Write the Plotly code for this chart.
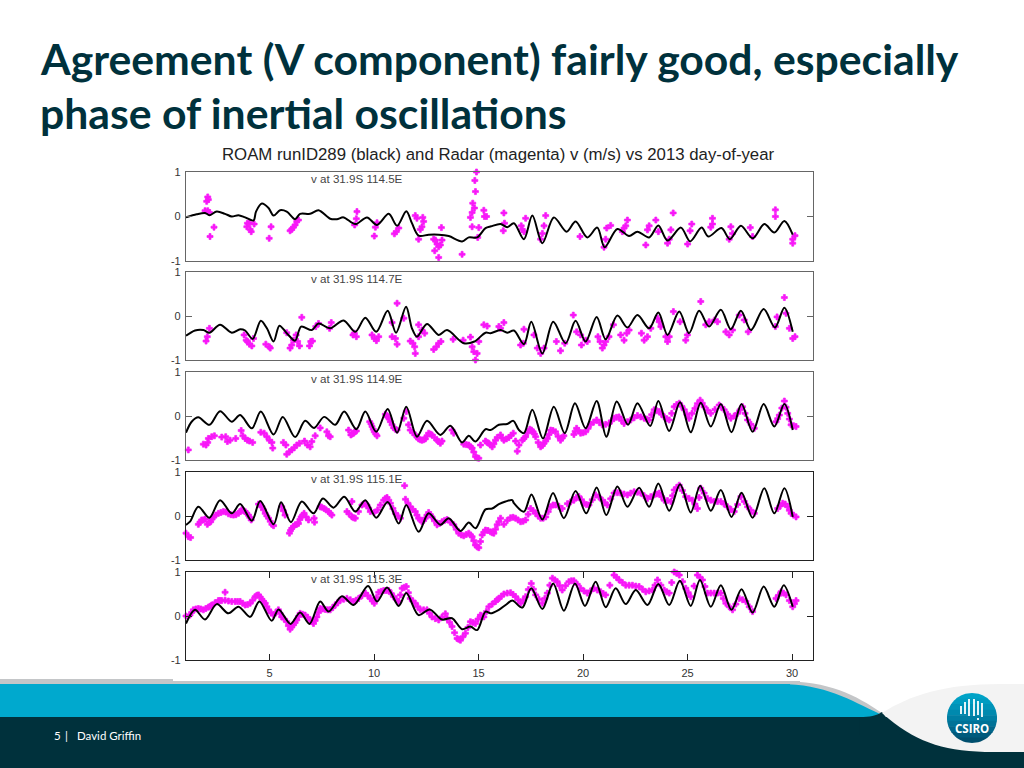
import numpy as np
import plotly.graph_objects as go

W = 1024
H = 768

# texto de la diapositiva
title_lines = ["Agreement (V component) fairly good, especially", "phase of inertial oscillations"]
chart_title = "ROAM runID289 (black) and Radar (magenta) v (m/s) vs 2013 day-of-year"
panel_labels = ["v at 31.9S 114.5E", "v at 31.9S 114.7E", "v at 31.9S 114.9E", "v at 31.9S 115.1E", "v at 31.9S 115.3E"]
x_ticks = [5, 10, 15, 20, 25, 30]
y_ticks = [-1, 0, 1]
y_tick_text = ["-1", "0", "1"]

# modelo ROAM (linea negra)
model_day_1 = [1.0, 1.51, 1.91, 2.12, 2.47, 2.87, 3.19, 3.51, 3.83, 4.23, 4.35, 4.63, 4.95, 5.19, 5.5, 5.82, 6.22, 6.46, 6.94, 7.34, 7.9, 8.22, 8.54, 9.1, 9.66, 10.14, 10.7, 11.1, 11.54, 11.81, 12.13, 12.61, 13.09, 13.57, 14.21, 14.53, 14.93, 15.33, 15.6, 16.05, 16.37, 16.69, 17.17, 17.57, 18.05, 18.6, 19.21, 19.64, 20.2, 20.68, 21.03, 21.64, 22.2, 22.6, 23.16, 23.6, 24.04, 24.68, 25.12, 25.67, 25.99, 26.62, 27.02, 27.55, 28.11, 28.67, 29.15, 29.63, 30.03]
model_v_1 = [-0.02, 0.05, 0.08, 0.03, 0.11, 0.06, 0.0, 0.03, -0.02, -0.09, 0.11, 0.29, 0.19, 0.02, 0.14, 0.11, -0.06, 0.06, 0.06, 0.14, -0.05, -0.06, -0.02, -0.17, -0.02, -0.19, 0.06, -0.21, 0.12, -0.15, -0.43, -0.41, -0.41, -0.44, -0.56, -0.47, -0.47, -0.26, -0.22, -0.17, -0.24, -0.15, -0.51, 0.02, -0.6, -0.02, -0.34, -0.11, -0.47, -0.25, -0.69, -0.28, -0.44, -0.34, -0.47, -0.2, -0.54, -0.25, -0.56, -0.25, -0.45, -0.26, -0.51, -0.21, -0.49, -0.17, -0.36, -0.1, -0.41]
model_day_2 = [1.0, 1.43, 1.83, 2.12, 2.63, 3.19, 3.59, 3.83, 4.19, 4.58, 4.87, 5.19, 5.47, 5.82, 6.22, 6.51, 7.02, 7.34, 7.9, 8.54, 9.1, 9.58, 10.1, 10.65, 11.05, 11.53, 11.81, 12.05, 12.53, 13.09, 13.49, 14.29, 14.8, 15.33, 15.57, 16.05, 16.37, 16.69, 17.17, 17.52, 18.05, 18.57, 19.16, 19.64, 20.12, 20.65, 21.08, 21.64, 22.12, 22.6, 23.16, 23.6, 24.04, 24.6, 25.07, 25.55, 26.03, 26.59, 27.07, 27.55, 28.03, 28.64, 29.18, 29.63, 30.03]
model_v_2 = [-0.45, -0.33, -0.32, -0.38, -0.2, -0.38, -0.3, -0.33, -0.52, -0.11, -0.28, -0.58, -0.22, -0.39, -0.56, -0.24, -0.32, -0.17, -0.28, -0.1, -0.36, -0.04, -0.36, 0.12, -0.38, 0.21, -0.28, -0.47, -0.18, -0.43, -0.32, -0.62, -0.58, -0.38, -0.39, -0.32, -0.38, -0.33, -0.64, -0.13, -0.85, -0.13, -0.62, -0.11, -0.58, -0.02, -0.53, 0.01, -0.26, 0.02, -0.28, 0.08, -0.43, 0.1, -0.39, 0.12, -0.24, 0.14, -0.3, 0.12, -0.32, 0.16, -0.26, 0.19, -0.36]
model_day_3 = [1.0, 1.27, 1.59, 2.12, 2.63, 3.19, 3.59, 4.15, 4.58, 5.19, 5.63, 6.22, 6.7, 7.13, 7.61, 8.14, 8.57, 9.15, 9.58, 10.1, 10.65, 11.1, 11.54, 12.05, 12.53, 13.17, 13.65, 14.21, 14.53, 14.85, 15.33, 15.57, 15.97, 16.37, 16.66, 16.93, 17.17, 17.57, 18.08, 18.6, 19.12, 19.61, 20.12, 20.65, 21.11, 21.61, 22.15, 22.6, 23.21, 23.6, 24.12, 24.64, 25.15, 25.63, 26.11, 26.59, 27.1, 27.58, 28.11, 28.64, 29.15, 29.63, 30.03]
model_v_3 = [-0.38, -0.13, -0.03, -0.2, 0.11, -0.13, 0.02, -0.28, 0.1, -0.42, -0.02, -0.48, -0.11, -0.27, -0.02, -0.2, 0.1, -0.3, 0.1, -0.36, 0.16, -0.38, 0.21, -0.47, -0.11, -0.43, -0.22, -0.6, -0.45, -0.58, -0.3, -0.32, -0.2, -0.18, -0.11, -0.32, -0.39, 0.14, -0.51, 0.21, -0.39, 0.29, -0.28, 0.34, -0.47, 0.33, -0.2, 0.29, -0.23, 0.34, -0.34, 0.31, -0.37, 0.3, -0.24, 0.27, -0.37, 0.27, -0.36, 0.27, -0.24, 0.27, -0.32]
model_day_4 = [1.0, 1.19, 1.59, 2.12, 2.63, 3.19, 3.59, 4.15, 4.55, 5.19, 5.55, 6.02, 6.54, 7.1, 7.55, 8.06, 8.57, 9.1, 9.58, 10.1, 10.65, 11.18, 11.54, 12.13, 12.61, 13.17, 13.57, 14.13, 14.53, 14.85, 15.33, 15.65, 15.97, 16.29, 16.61, 16.69, 17.17, 17.53, 18.05, 18.56, 19.08, 19.64, 20.15, 20.65, 21.11, 21.64, 22.12, 22.68, 23.16, 23.6, 24.12, 24.64, 25.15, 25.6, 26.11, 26.59, 27.1, 27.58, 28.11, 28.67, 29.15, 29.63, 30.03]
model_v_4 = [-0.2, -0.13, 0.21, -0.04, 0.36, 0.06, 0.27, -0.11, 0.34, -0.19, 0.31, -0.14, 0.33, 0.06, 0.4, 0.19, 0.44, 0.1, 0.36, -0.04, 0.32, -0.17, 0.25, -0.36, 0.06, -0.2, -0.05, -0.34, -0.15, -0.28, 0.15, 0.17, 0.27, 0.33, 0.36, 0.29, 0.1, 0.49, -0.08, 0.52, -0.05, 0.57, 0.06, 0.65, 0.02, 0.67, 0.21, 0.64, 0.21, 0.74, 0.12, 0.72, 0.08, 0.69, 0.12, 0.59, -0.02, 0.53, -0.04, 0.63, 0.06, 0.63, -0.02]
model_day_5 = [1.0, 1.43, 1.91, 2.47, 3.03, 3.51, 4.07, 4.51, 5.1, 5.43, 6.0, 6.46, 6.91, 7.42, 7.82, 8.46, 9.02, 9.71, 10.14, 10.62, 11.18, 11.54, 12.13, 12.66, 13.25, 13.73, 14.21, 14.61, 14.93, 15.33, 15.57, 15.97, 16.29, 16.61, 17.09, 17.52, 18.05, 18.57, 19.08, 19.61, 20.09, 20.6, 21.08, 21.56, 22.04, 22.52, 23.08, 23.6, 24.12, 24.63, 25.15, 25.59, 26.11, 26.59, 27.1, 27.58, 28.11, 28.64, 29.15, 29.6, 30.03]
model_v_5 = [-0.17, 0.14, -0.08, 0.27, 0.06, 0.21, -0.02, 0.33, -0.11, 0.15, -0.18, 0.08, -0.18, 0.33, 0.1, 0.45, 0.25, 0.68, 0.33, 0.65, 0.23, 0.52, 0.02, 0.15, -0.08, -0.05, -0.3, -0.24, -0.32, 0.1, 0.06, 0.14, 0.25, 0.35, 0.19, 0.63, 0.16, 0.74, 0.12, 0.74, 0.23, 0.78, 0.2, 0.63, 0.27, 0.59, 0.25, 0.73, 0.25, 0.8, 0.23, 0.82, 0.21, 0.7, 0.14, 0.61, 0.08, 0.67, 0.21, 0.7, 0.21]

# radar (puntos magenta)
radar_day_1 = [2.04, 2.07, 1.99, 1.91, 2.04, 2.12, 2.34, 2.15, 3.94, 3.91, 4.04, 4.07, 4.12, 4.26, 4.98, 5.07, 5.98, 6.06, 6.14, 6.22, 6.3, 6.38, 9.18, 9.15, 9.07, 10.01, 10.06, 10.14, 10.97, 11.06, 11.18, 11.97, 12.05, 12.33, 12.37, 12.29, 12.21, 12.13, 12.85, 12.93, 13.01, 13.09, 13.17, 13.25, 12.9, 13.09, 13.22, 14.21, 14.61, 14.69, 14.72, 14.8, 14.85, 14.82, 14.9, 14.69, 15.01, 14.96, 15.25, 15.28, 15.38, 16.21, 16.24, 16.18, 17.25, 17.04, 17.09, 17.17, 18.21, 18.13, 18.05, 17.97, 19.85, 21.0, 21.08, 21.13, 21.32, 21.96, 22.04, 22.12, 21.88, 23.0, 23.08, 23.16, 23.48, 23.6, 24.04, 24.12, 24.2, 24.31, 25.0, 25.12, 25.2, 26.11, 26.19, 26.19, 27.07, 27.15, 26.99, 28.0, 28.11, 29.2, 29.2, 30.03, 30.03, 30.14]
radar_v_1 = [0.44, 0.38, 0.34, 0.13, 0.13, 0.09, -0.24, -0.45, -0.15, -0.23, -0.14, -0.29, -0.34, -0.17, -0.49, -0.23, -0.32, -0.29, -0.24, -0.19, -0.11, -0.08, 0.11, -0.05, -0.19, -0.44, -0.24, -0.14, -0.39, -0.34, -0.26, 0.02, -0.04, -0.02, -0.11, -0.23, -0.29, -0.51, -0.51, -0.53, -0.62, -0.68, -0.64, -0.53, -0.77, -0.92, -0.25, -0.85, -0.02, 0.09, 0.3, 0.19, 0.56, 0.81, 1.0, -0.23, -0.25, -0.47, 0.14, 0.0, 0.0, 0.08, -0.15, -0.32, -0.04, -0.21, -0.29, -0.34, 0.02, -0.21, -0.38, -0.51, -0.45, -0.69, -0.51, -0.26, -0.2, -0.26, -0.21, -0.08, -0.34, -0.64, -0.3, -0.21, -0.08, -0.34, -0.6, -0.51, -0.3, 0.08, -0.62, -0.32, -0.17, -0.24, -0.04, -0.17, -0.23, -0.38, -0.51, -0.25, -0.45, 0.15, 0.0, -0.51, -0.6, -0.43]
radar_day_2 = [2.12, 2.02, 1.96, 3.78, 3.88, 3.94, 4.04, 4.15, 4.23, 4.82, 4.99, 5.03, 5.82, 5.98, 6.06, 6.14, 6.27, 6.34, 6.43, 6.91, 6.97, 7.05, 6.54, 7.21, 7.34, 7.95, 7.87, 9.05, 9.15, 8.99, 9.9, 10.01, 10.11, 10.22, 11.1, 10.86, 10.86, 11.02, 11.1, 11.42, 11.73, 11.86, 11.97, 11.94, 12.13, 12.13, 12.29, 12.42, 12.85, 12.98, 13.09, 13.2, 13.78, 14.26, 14.61, 14.69, 14.77, 14.85, 14.93, 15.01, 15.25, 15.41, 15.97, 16.21, 16.05, 17.17, 17.01, 17.14, 17.65, 17.81, 17.97, 18.13, 18.72, 18.92, 19.12, 19.53, 19.69, 19.88, 19.92, 20.12, 20.2, 20.71, 20.81, 20.92, 21.0, 21.08, 21.24, 21.45, 21.8, 21.96, 22.09, 22.2, 22.79, 22.92, 23.08, 23.24, 23.56, 23.64, 23.72, 23.96, 24.04, 24.12, 24.32, 24.64, 24.91, 24.99, 25.63, 25.87, 26.03, 26.3, 26.43, 26.83, 26.99, 27.15, 27.47, 27.71, 27.9, 29.2, 29.28, 29.63, 29.71, 30.03, 30.14, 29.87]
radar_v_2 = [-0.28, -0.47, -0.57, -0.43, -0.55, -0.58, -0.64, -0.68, -0.51, -0.64, -0.7, -0.73, -0.38, -0.73, -0.66, -0.55, -0.43, -0.58, -0.68, -0.68, -0.58, -0.57, -0.03, -0.24, -0.17, -0.15, -0.28, -0.39, -0.47, -0.43, -0.43, -0.51, -0.56, -0.47, 0.29, -0.15, -0.47, -0.51, -0.64, -0.05, -0.57, -0.62, -0.85, -0.7, -0.2, -0.47, -0.32, -0.39, -0.76, -0.7, -0.62, -0.58, -0.53, -0.55, -0.48, -0.7, -0.81, -1.0, -0.85, -0.58, -0.2, -0.23, -0.24, -0.15, -0.28, -0.3, -0.66, -0.62, -0.43, -0.73, -0.85, -0.73, -0.58, -0.79, -0.62, 0.02, -0.36, -0.43, -0.66, -0.55, -0.58, -0.47, -0.58, -0.73, -0.66, -0.58, -0.47, -0.2, -0.43, -0.55, -0.39, -0.32, -0.39, -0.55, -0.47, -0.28, -0.05, -0.13, -0.24, -0.47, -0.58, -0.47, 0.1, -0.13, -0.55, -0.43, 0.33, -0.2, -0.13, -0.09, -0.13, -0.36, -0.43, -0.32, 0.02, -0.09, -0.36, -0.24, -0.02, 0.42, 0.06, -0.51, -0.47, -0.28]
radar_day_3 = [1.11, 1.83, 1.96, 2.04, 2.07, 2.23, 2.36, 2.71, 2.9, 2.98, 3.11, 3.38, 3.64, 3.72, 3.83, 3.94, 4.04, 4.19, 4.58, 4.74, 4.87, 4.99, 5.11, 5.15, 5.66, 5.78, 5.82, 5.95, 6.06, 6.18, 6.3, 6.43, 6.67, 6.81, 6.94, 7.02, 7.18, 7.42, 7.74, 7.82, 7.9, 8.78, 8.89, 9.02, 9.15, 9.79, 9.9, 10.01, 10.14, 10.54, 10.65, 10.78, 10.94, 11.1, 11.42, 11.54, 11.73, 11.97, 12.13, 12.29, 12.45, 12.61, 12.77, 13.01, 13.17, 13.25, 13.73, 13.81, 14.29, 14.53, 14.69, 14.85, 15.01, 15.09, 15.33, 15.49, 15.65, 15.81, 16.05, 16.21, 16.45, 16.66, 16.77, 16.85, 16.93, 17.09, 17.25, 17.45, 17.61, 17.73, 17.97, 18.13, 18.29, 18.45, 18.68, 18.92, 19.08, 19.56, 19.69, 19.88, 20.12, 20.36, 20.65, 20.92, 21.24, 21.48, 21.72, 21.96, 22.28, 22.6, 22.92, 23.16, 23.4, 23.64, 23.88, 24.12, 24.36, 24.6, 24.84, 25.07, 25.35, 25.6, 25.79, 26.11, 26.51, 26.75, 27.07, 27.39, 27.63, 27.87, 28.19, 29.23, 29.39, 29.63, 29.79, 29.95, 30.19,
               8.95, 9.08, 9.85, 9.96, 10.08, 10.6, 10.72, 10.86, 11.02, 11.65, 11.85, 12.05, 12.21, 12.37, 12.53, 12.69, 12.89, 13.09, 14.41, 14.61, 14.77, 14.93, 15.41, 15.57, 15.73, 15.89, 16.13, 16.33, 16.55, 17.17, 17.35, 17.53, 17.67, 17.85, 18.05, 18.21, 18.37, 18.56, 18.8, 19.0, 19.62, 19.78, 20.0, 20.24, 20.5, 20.78, 21.08, 21.36, 21.6, 21.84, 22.12, 22.44, 22.76, 23.04, 23.28, 23.52, 23.76, 24.0, 24.24, 24.48, 24.72, 24.96, 25.21, 25.47, 25.7, 25.95, 26.31, 26.63, 26.91, 27.23, 27.51, 27.75, 28.03, 29.31, 29.51, 29.71, 29.87, 30.07]
radar_v_3 = [-0.77, -0.64, -0.66, -0.6, -0.51, -0.47, -0.45, -0.48, -0.47, -0.58, -0.55, -0.51, -0.33, -0.45, -0.51, -0.55, -0.57, -0.6, -0.37, -0.39, -0.47, -0.55, -0.6, -0.73, -0.6, -0.66, -0.87, -0.81, -0.77, -0.72, -0.66, -0.62, -0.57, -0.66, -0.7, -0.58, -0.45, -0.27, -0.36, -0.45, -0.47, -0.32, -0.43, -0.39, -0.34, -0.13, -0.24, -0.36, -0.45, 0.04, -0.02, -0.13, -0.27, -0.32, -0.05, 0.1, -0.32, -0.43, -0.52, -0.55, -0.52, -0.39, -0.43, -0.55, -0.62, -0.57, -0.32, -0.39, -0.64, -0.66, -0.73, -0.92, -0.96, -0.66, -0.57, -0.62, -0.7, -0.55, -0.43, -0.55, -0.49, -0.39, -0.57, -0.8, -0.66, -0.55, -0.47, -0.3, -0.36, -0.47, -0.7, -0.62, -0.51, -0.32, -0.36, -0.55, -0.45, -0.42, -0.28, -0.39, -0.36, -0.19, -0.09, -0.2, -0.17, -0.05, -0.02, -0.17, -0.09, 0.01, -0.05, -0.09, 0.14, 0.1, -0.02, -0.09, 0.21, 0.29, 0.14, -0.05, 0.17, 0.36, 0.21, 0.06, 0.25, 0.14, -0.05, 0.06, 0.21, -0.09, -0.28, -0.13, 0.02, 0.34, 0.06, -0.2, -0.24,
             -0.41, -0.36, -0.18, -0.3, -0.41, 0.01, -0.07, -0.2, -0.3, -0.2, -0.38, -0.48, -0.54, -0.54, -0.45, -0.41, -0.49, -0.58, -0.65, -0.7, -0.82, -0.95, -0.6, -0.66, -0.63, -0.49, -0.5, -0.52, -0.44, -0.51, -0.38, -0.32, -0.41, -0.6, -0.67, -0.57, -0.42, -0.33, -0.46, -0.5, -0.35, -0.33, -0.38, -0.28, -0.14, -0.15, -0.19, -0.11, -0.03, -0.1, -0.13, -0.04, -0.02, -0.07, 0.03, 0.12, 0.04, -0.06, 0.06, 0.26, 0.22, 0.04, 0.06, 0.28, 0.29, 0.13, 0.15, 0.2, 0.04, 0.0, 0.14, 0.06, -0.19, -0.06, 0.18, 0.2, -0.07, -0.22]
radar_day_4 = [1.0, 1.11, 1.22, 1.59, 1.75, 1.91, 2.02, 2.18, 2.31, 2.55, 2.79, 3.03, 3.27, 3.51, 3.67, 3.83, 3.99, 4.12, 4.47, 4.63, 4.79, 4.95, 5.11, 5.19, 5.58, 5.74, 5.95, 6.06, 6.22, 6.38, 6.51, 6.65, 6.86, 7.13, 7.15, 7.42, 7.61, 7.82, 7.98, 8.94, 8.7, 8.94, 9.1, 9.42, 9.66, 9.82, 10.17, 10.46, 10.62, 10.78, 11.02, 11.26, 11.46, 11.5, 11.73, 11.97, 12.13, 12.29, 12.45, 12.61, 12.77, 13.01, 13.25, 13.49, 13.81, 14.05, 14.29, 14.53, 14.69, 14.85, 15.01, 15.17, 15.33, 15.57, 15.73, 15.89, 15.97, 16.05, 16.21, 16.53, 16.77, 17.01, 17.25, 17.49, 17.73, 17.97, 18.21, 18.45, 18.68, 19.0, 19.56, 19.8, 20.04, 20.28, 20.6, 20.92, 21.16, 21.48, 21.8, 22.12, 22.44, 22.76, 23.08, 23.4, 23.64, 23.88, 24.2, 24.36, 24.6, 24.91, 25.23, 25.47, 25.63, 25.95, 26.27, 26.59, 26.91, 27.23, 27.55, 27.87, 28.19, 29.31, 29.55, 29.79, 29.95, 30.19,
               1.67, 1.83, 2.1, 2.25, 2.43, 2.67, 2.91, 3.15, 3.39, 3.59, 3.75, 3.91, 4.05, 4.55, 4.71, 4.87, 5.03, 5.66, 6.0, 6.14, 6.3, 6.45, 6.58, 6.75, 7.5, 7.7, 7.9, 8.8, 9.02, 9.25, 9.54, 9.74, 10.0, 10.3, 10.54, 10.7, 10.9, 11.14, 11.62, 11.85, 12.05, 12.21, 12.37, 12.53, 12.69, 12.89, 13.13, 13.37, 13.65, 13.93, 14.17, 14.41, 14.61, 14.77, 14.93, 15.09, 15.25, 15.45, 15.65, 15.81, 16.37, 16.65, 16.89, 17.13, 17.37, 17.61, 17.85, 18.09, 18.33, 18.56, 18.84, 19.25, 19.4, 19.68, 19.92, 20.16, 20.44, 20.76, 21.04, 21.32, 21.64, 21.96, 22.28, 22.6, 22.92, 23.24, 23.52, 23.76, 24.04, 24.28, 24.48, 24.75, 25.07, 25.35, 25.55, 25.79, 26.11, 26.43, 26.75, 27.07, 27.39, 27.71, 28.03, 29.43, 29.67, 29.87, 30.07]
radar_v_4 = [-0.39, -0.47, -0.49, -0.19, -0.09, -0.07, -0.19, -0.13, -0.02, 0.06, 0.1, 0.05, 0.02, 0.06, 0.14, 0.1, 0.02, -0.09, 0.27, 0.21, 0.06, -0.05, -0.19, -0.22, 0.21, 0.02, -0.39, -0.28, -0.2, -0.17, -0.02, 0.06, -0.09, -0.05, -0.14, 0.21, 0.17, 0.1, 0.02, 0.33, 0.1, -0.02, -0.05, 0.25, 0.25, 0.1, 0.14, 0.36, 0.42, 0.29, 0.06, -0.05, 0.69, 0.38, 0.21, 0.1, -0.05, -0.13, -0.05, 0.08, -0.02, -0.2, -0.13, -0.08, -0.2, -0.39, -0.45, -0.39, -0.47, -0.66, -0.72, -0.43, -0.32, -0.36, -0.39, -0.2, -0.13, -0.05, -0.19, -0.04, -0.05, -0.13, -0.09, 0.17, 0.06, -0.05, -0.02, 0.21, 0.25, 0.17, 0.36, 0.44, 0.29, 0.25, 0.48, 0.36, 0.25, 0.52, 0.52, 0.48, 0.55, 0.52, 0.4, 0.48, 0.52, 0.36, 0.33, 0.59, 0.7, 0.44, 0.36, 0.17, 0.63, 0.4, 0.33, 0.33, 0.21, 0.1, 0.44, 0.21, 0.06, 0.17, 0.29, 0.21, 0.06, -0.02,
             -0.14, -0.09, -0.15, -0.07, 0.02, 0.08, 0.09, 0.03, 0.03, 0.1, 0.12, 0.06, -0.03, 0.25, 0.14, 0.0, -0.12, 0.12, -0.33, -0.24, -0.19, -0.08, 0.02, -0.02, 0.2, 0.14, 0.06, 0.05, -0.04, 0.1, 0.27, 0.18, 0.08, 0.25, 0.4, 0.36, 0.17, 0.0, 0.29, 0.15, 0.02, -0.09, -0.1, 0.02, 0.03, -0.11, -0.17, -0.1, -0.14, -0.3, -0.43, -0.42, -0.43, -0.56, -0.7, -0.58, -0.37, -0.33, -0.38, -0.3, -0.1, -0.03, -0.09, -0.12, 0.04, 0.12, 0.0, -0.05, 0.1, 0.25, 0.22, 0.28, 0.32, 0.42, 0.37, 0.26, 0.37, 0.43, 0.3, 0.39, 0.53, 0.5, 0.52, 0.54, 0.46, 0.44, 0.5, 0.44, 0.35, 0.46, 0.65, 0.58, 0.4, 0.27, 0.42, 0.52, 0.36, 0.33, 0.27, 0.15, 0.26, 0.33, 0.13, 0.23, 0.27, 0.13, 0.02]
radar_day_5 = [1.0, 1.19, 1.35, 1.59, 1.83, 2.07, 2.23, 2.55, 2.87, 2.71, 3.03, 3.35, 3.59, 3.83, 4.07, 4.31, 4.47, 4.63, 4.79, 4.95, 5.19, 5.42, 5.58, 5.82, 5.98, 6.14, 6.3, 6.46, 6.7, 6.94, 7.1, 7.26, 7.42, 7.66, 7.9, 8.14, 8.38, 8.7, 9.02, 9.26, 9.58, 9.82, 10.01, 10.22, 10.46, 10.7, 10.94, 11.18, 11.34, 11.54, 11.73, 11.97, 12.21, 12.53, 12.77, 13.09, 13.41, 13.49, 13.73, 13.97, 14.13, 14.37, 14.61, 14.85, 15.09, 15.25, 15.49, 15.81, 15.97, 16.21, 16.53, 16.77, 17.01, 17.25, 17.52, 17.73, 18.05, 18.29, 18.53, 18.76, 19.0, 19.32, 19.56, 19.88, 20.2, 20.52, 20.84, 21.08, 21.48, 21.72, 22.04, 22.36, 22.68, 23.0, 23.32, 23.56, 23.88, 24.12, 24.36, 24.6, 24.91, 25.15, 25.47, 25.71, 25.95, 26.27, 26.59, 26.83, 27.15, 27.47, 27.79, 28.11, 29.23, 29.47, 29.71, 30.03, 30.19,
               1.27, 1.47, 1.71, 1.95, 2.15, 2.39, 2.63, 2.87, 3.19, 3.47, 3.71, 3.95, 4.19, 4.39, 4.55, 4.71, 4.87, 5.07, 5.3, 5.5, 5.7, 5.9, 6.06, 6.22, 6.38, 6.58, 6.82, 7.02, 7.18, 7.34, 7.54, 7.78, 8.02, 8.26, 8.54, 8.86, 9.14, 9.42, 9.7, 9.92, 10.12, 10.34, 10.58, 10.82, 11.06, 11.26, 11.44, 11.64, 11.85, 12.09, 12.37, 12.65, 12.93, 13.25, 13.61, 13.85, 14.05, 14.25, 14.49, 14.73, 14.97, 15.17, 15.37, 15.65, 15.89, 16.09, 16.37, 16.65, 16.89, 17.13, 17.38, 17.62, 17.89, 18.17, 18.41, 18.65, 18.88, 19.16, 19.44, 19.72, 20.04, 20.36, 20.68, 20.96, 21.28, 21.6, 21.88, 22.2, 22.52, 22.84, 23.16, 23.44, 23.72, 24.0, 24.24, 24.48, 24.76, 25.03, 25.31, 25.59, 25.83, 26.11, 26.43, 26.71, 26.99, 27.31, 27.63, 27.95, 29.35, 29.59, 29.87, 30.11]
radar_v_5 = [0.0, 0.02, 0.14, 0.17, 0.14, 0.2, 0.25, 0.35, 0.54, 0.35, 0.34, 0.33, 0.33, 0.25, 0.29, 0.44, 0.48, 0.38, 0.29, 0.14, 0.02, 0.14, -0.02, -0.13, -0.3, -0.2, -0.09, 0.06, 0.02, -0.09, -0.17, -0.02, 0.17, 0.15, 0.14, 0.25, 0.36, 0.4, 0.33, 0.4, 0.52, 0.4, 0.29, 0.54, 0.58, 0.58, 0.44, 0.33, 0.63, 0.67, 0.4, 0.29, 0.14, 0.14, -0.02, -0.09, 0.05, -0.05, -0.24, -0.51, -0.55, -0.39, -0.13, -0.17, 0.02, -0.02, 0.21, 0.33, 0.4, 0.5, 0.53, 0.44, 0.29, 0.44, 0.74, 0.48, 0.29, 0.52, 0.86, 0.78, 0.59, 0.78, 0.8, 0.63, 0.52, 0.63, 0.55, 0.48, 0.93, 0.82, 0.7, 0.7, 0.67, 0.55, 0.59, 0.82, 0.59, 0.52, 1.0, 0.93, 0.63, 0.44, 0.93, 0.82, 0.52, 0.52, 0.52, 0.29, 0.14, 0.4, 0.33, 0.1, 0.4, 0.55, 0.48, 0.21, 0.35,
             0.08, 0.16, 0.16, 0.17, 0.22, 0.3, 0.35, 0.36, 0.33, 0.33, 0.29, 0.26, 0.36, 0.47, 0.43, 0.33, 0.21, 0.07, 0.08, 0.06, -0.07, -0.22, -0.25, -0.15, -0.01, 0.04, -0.03, -0.13, -0.1, 0.08, 0.16, 0.14, 0.19, 0.3, 0.38, 0.37, 0.36, 0.46, 0.46, 0.34, 0.42, 0.56, 0.58, 0.51, 0.38, 0.48, 0.65, 0.53, 0.34, 0.21, 0.14, 0.06, -0.06, -0.02, -0.14, -0.38, -0.53, -0.47, -0.26, -0.15, -0.07, 0.0, 0.1, 0.27, 0.37, 0.45, 0.52, 0.49, 0.37, 0.36, 0.6, 0.61, 0.38, 0.4, 0.7, 0.82, 0.69, 0.69, 0.8, 0.72, 0.57, 0.57, 0.59, 0.51, 0.7, 0.88, 0.76, 0.7, 0.68, 0.61, 0.57, 0.7, 0.7, 0.55, 0.76, 0.97, 0.78, 0.53, 0.68, 0.88, 0.67, 0.52, 0.52, 0.4, 0.21, 0.27, 0.37, 0.21, 0.47, 0.52, 0.35, 0.28]

model_days = [model_day_1, model_day_2, model_day_3, model_day_4, model_day_5]
model_vals = [model_v_1, model_v_2, model_v_3, model_v_4, model_v_5]
radar_days = [radar_day_1, radar_day_2, radar_day_3, radar_day_4, radar_day_5]
radar_vals = [radar_v_1, radar_v_2, radar_v_3, radar_v_4, radar_v_5]

# posicion de los paneles en pixeles (arriba, abajo)
panel_px = [(172, 261), (272, 360), (372, 460), (472, 560), (572, 660)]
left_px, right_px = 186, 813

DARK = "#00313c"
BLUE = "#00a9ce"
MAGENTA = "#f818f8"


def px(x):
    return x / W


def py(y):
    return 1 - y / H


def path(points, close=True):
    # convierte una lista de pixeles a un path en coordenadas de papel
    s = "M " + " L ".join(f"{px(x):.5f},{py(y):.5f}" for x, y in points)
    return s + (" Z" if close else "")


def curve(c1, c2, x1, y1):
    return f"C {px(c1[0]):.5f},{py(c1[1]):.5f} {px(c2[0]):.5f},{py(c2[1]):.5f} {px(x1):.5f},{py(y1):.5f}"


def rect(x0, y0, x1, y1, color):
    return dict(type="rect", xref="paper", yref="paper", x0=px(x0), x1=px(x1), y0=py(y0), y1=py(y1),
                fillcolor=color, line_width=0, layer="below")


def free(d, color):
    return dict(type="path", xref="paper", yref="paper", path=d, fillcolor=color, line_width=0, layer="below")


fig = go.Figure()
layout = dict(
    width=W, height=H, margin=dict(l=0, r=0, t=0, b=0, autoexpand=False), paper_bgcolor="white",
    plot_bgcolor="white", showlegend=False,
)

for i in range(5):
    n = "" if i == 0 else str(i + 1)
    fig.add_trace(go.Scatter(x=radar_days[i], y=radar_vals[i], mode="markers", xaxis="x" + n, yaxis="y" + n,
                             marker=dict(symbol="cross", size=5, color=MAGENTA, line=dict(color=MAGENTA, width=0.7)),
                             cliponaxis=False))
    fig.add_trace(go.Scatter(x=model_days[i], y=model_vals[i], mode="lines", xaxis="x" + n, yaxis="y" + n,
                             line=dict(color="black", width=2, shape="spline", smoothing=0.9)))
    last = i == 4
    frame = "#666666" if i < 3 else "#222222"
    layout["xaxis" + n] = dict(
        domain=[px(left_px), px(right_px)], range=[1, 31], anchor="y" + n, showgrid=False, zeroline=False,
        showline=True, mirror="ticks" if last else True, linecolor=frame, linewidth=1.2,
        ticks="inside" if last else "", ticklen=6, tickcolor=frame, tickvals=x_ticks if last else [],
        showticklabels=last, ticklabelstandoff=3, tickfont=dict(family="Liberation Sans", size=11, color="#333333"),
    )
    layout["yaxis" + n] = dict(
        domain=[py(panel_px[i][1]), py(panel_px[i][0])], range=[-1, 1], anchor="x" + n, showgrid=False,
        zeroline=False, showline=True, mirror="ticks", linecolor=frame, linewidth=1.2, ticks="inside", ticklen=6,
        tickcolor=frame, tickvals=y_ticks, ticktext=y_tick_text, ticklabelstandoff=2,
        tickfont=dict(family="Liberation Sans", size=11, color="#333333"),
    )

# pie de la diapositiva
shapes = [
    rect(0, 679, 173, 684, "#c4c6c8"),
    rect(173, 681, 800, 684, "#c4c6c8"),
    free(f"M {px(780):.5f},{py(681):.5f} " + curve((830, 681), (855, 695), 882, 713) + f" L {px(780):.5f},{py(713):.5f} Z", "#c4c6c8"),
    rect(0, 684, 790, 717, BLUE),
    free(f"M {px(780):.5f},{py(684):.5f} " + curve((825, 684), (850, 700), 880, 714) + f" L {px(880):.5f},{py(717):.5f} L {px(780):.5f},{py(717):.5f} Z", BLUE),
    rect(0, 717, 1024, 768, DARK),
    free(f"M {px(860):.5f},{py(717):.5f} " + curve((870, 717), (876, 716), 882, 712) + f" L {px(900):.5f},{py(735):.5f} L {px(860):.5f},{py(735):.5f} Z", DARK),
    free(f"M {px(882):.5f},{py(713):.5f} " + curve((910, 695), (945, 684), 1000, 684)
         + f" L {px(1024):.5f},{py(684):.5f} L {px(1024):.5f},{py(752):.5f} L {px(985):.5f},{py(752):.5f} "
         + curve((940, 750), (915, 742), 882, 713) + " Z", "#f3f3f3"),
]

# logo: circulo con degradado hecho por bandas
cx, cy, r = 972, 718, 25
band_colors = ["#00a3c7", "#009cc1", "#0093b8", "#0089ae", "#007ea3", "#007297", "#00668a", "#005a7c", "#004f6e"]
edges = np.linspace(cy - r, cy + r, len(band_colors) + 1)
for k, c in enumerate(band_colors):
    ys = np.linspace(edges[k], edges[k + 1] + (0.5 if k < len(band_colors) - 1 else 0), 8)
    half = np.sqrt(np.clip(r ** 2 - (ys - cy) ** 2, 0, None))
    pts = [(cx - h, y) for h, y in zip(half, ys)] + [(cx + h, y) for h, y in zip(half[::-1], ys[::-1])]
    shapes.append(free(path(pts), c))
for bx, y0, y1 in [(961, 706, 714), (965, 702, 714), (969, 699, 716), (974, 699, 716), (978, 701, 715), (982, 703, 717)]:
    shapes.append(dict(type="line", xref="paper", yref="paper", x0=px(bx), x1=px(bx), y0=py(y0), y1=py(y1),
                       line=dict(color="white", width=1.8), layer="below"))
shapes.append(dict(type="line", xref="paper", yref="paper", x0=px(978), x1=px(978), y0=py(718), y1=py(720),
                   line=dict(color="white", width=1.8), layer="below"))

layout["shapes"] = shapes


def text(s, x, y, size, color, family, anchor="left", bold=False):
    return dict(text=f"<b>{s}</b>" if bold else s, x=px(x), y=py(y), xref="paper", yref="paper", showarrow=False,
                xanchor=anchor, yanchor="middle", font=dict(family=family, size=size, color=color))


annots = [
    text(title_lines[0], 38, 59, 42.7, DARK, "Lato", bold=True),
    text(title_lines[1], 38, 113, 42.7, DARK, "Lato", bold=True),
    text(chart_title, 498, 154, 16.8, "#222222", "Liberation Sans", anchor="center"),
    text("5", 52, 735, 11.5, "white", "Lato"),
    text("|", 63, 735, 11.5, "white", "Lato"),
    text("David Griffin", 75, 735, 11.5, "white", "Lato"),
    text("CSIRO", 972, 728, 11.5, "white", "Open Sans", anchor="center", bold=True),
]
for i, lab in enumerate(panel_labels):
    annots.append(text(lab, 357, panel_px[i][0] + 6, 11.6, "#444444", "Liberation Sans", anchor="center"))
layout["annotations"] = annots

fig.update_layout(**layout)
fig.write_html("out.html", post_script="document.body.style.margin='0';", config=dict(displayModeBar=False))
